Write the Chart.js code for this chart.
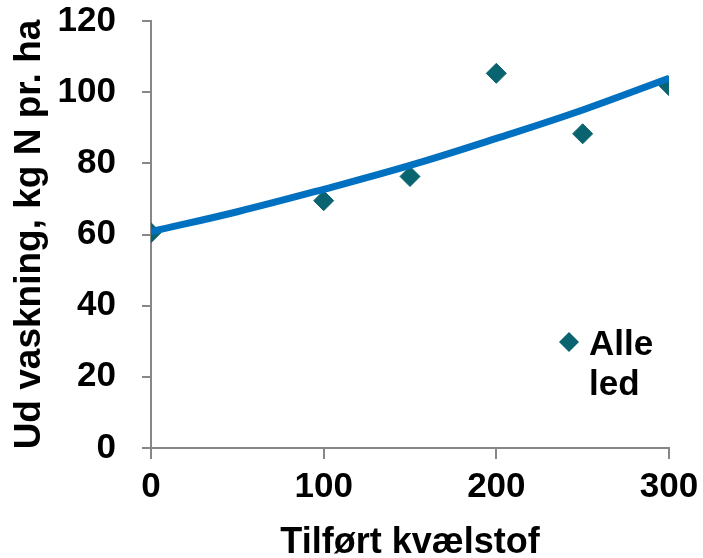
<!DOCTYPE html>
<html>
<head>
<meta charset="utf-8">
<script src="https://cdn.jsdelivr.net/npm/chart.js@4"></script>
<style>
    html, body { margin: 0; padding: 0; background: #fff; }
    canvas { display: block; }
</style>
</head>
<body>
<canvas id="udvaskChart" width="703" height="558"></canvas>
<script>
// Data
const nitrogenLevels = [0, 100, 150, 200, 250, 300];
const leachingValues = [60.5, 69.5, 76.3, 105.3, 88.3, 101.8];
const trendX = [0, 50, 100, 150, 200, 250, 300];
const trendY = [60.8, 66.4, 72.7, 79.4, 87.0, 95.0, 103.9];
const seriesLabel = 'Alle led';
const xTitle = 'Tilført kvælstof';
const yTitle = 'Ud vaskning, kg N pr. ha';

const fontFamily = "'Liberation Sans', Arial, sans-serif";
const axisGrey = '#878787';
const markerColor = '#0A6470';

// Legend in the plot area, text wrapped on two lines like the original
const insideLegend = {
    id: 'insideLegend',
    afterDraw(chart) {
        const ctx = chart.ctx;
        const ds = chart.data.datasets[1];
        const words = ds.label.split(' ');
        ctx.save();
        ctx.fillStyle = ds.backgroundColor;
        ctx.beginPath();
        ctx.moveTo(569, 332);
        ctx.lineTo(579, 342);
        ctx.lineTo(569, 352);
        ctx.lineTo(559, 342);
        ctx.closePath();
        ctx.fill();
        ctx.fillStyle = '#000';
        ctx.font = 'bold 35px ' + fontFamily;
        ctx.textBaseline = 'alphabetic';
        ctx.fillText(words[0], 589, 355);
        ctx.fillText(words[1], 589, 395);
        ctx.restore();
    }
};

new Chart(document.getElementById('udvaskChart'), {
    data: {
        datasets: [
            {
                type: 'line',
                label: 'Trend',
                data: trendX.map((x, i) => ({ x: x, y: trendY[i] })),
                borderColor: '#0070C0',
                borderWidth: 7,
                pointRadius: 0,
                tension: 0.4,
                fill: false
            },
            {
                type: 'scatter',
                label: seriesLabel,
                data: nitrogenLevels.map((x, i) => ({ x: x, y: leachingValues[i] })),
                backgroundColor: markerColor,
                borderColor: markerColor,
                pointStyle: 'rectRot',
                pointRadius: 10,
                pointHoverRadius: 10
            }
        ]
    },
    options: {
        responsive: false,
        animation: false,
        layout: { padding: { top: 21, right: 34, bottom: 0, left: 0 } },
        plugins: {
            legend: { display: false },
            tooltip: { enabled: false }
        },
        scales: {
            x: {
                type: 'linear',
                min: 0,
                max: 300,
                afterFit: function (scale) {
                    scale.height = 110;
                    scale.paddingLeft = 0;
                    scale.paddingRight = 0;
                },
                border: { color: axisGrey, width: 2 },
                grid: { drawOnChartArea: false, drawTicks: true, tickLength: 11, color: axisGrey, lineWidth: 2 },
                ticks: {
                    stepSize: 100,
                    padding: 11,
                    color: '#000',
                    font: { family: fontFamily, size: 35, weight: 'bold', lineHeight: 1 }
                },
                title: {
                    display: true,
                    text: xTitle,
                    color: '#000',
                    padding: { top: 0, bottom: -3 },
                    font: { family: fontFamily, size: 36, weight: 'bold', lineHeight: 1 }
                }
            },
            y: {
                min: 0,
                max: 120,
                afterFit: function (scale) {
                    scale.width = 151;
                    scale.paddingTop = 0;
                    scale.paddingBottom = 0;
                },
                border: { color: axisGrey, width: 2 },
                grid: { drawOnChartArea: false, drawTicks: true, tickLength: 9, color: axisGrey, lineWidth: 2 },
                ticks: {
                    stepSize: 20,
                    padding: 26,
                    color: '#000',
                    font: { family: fontFamily, size: 35, weight: 'bold', lineHeight: 1 }
                },
                title: {
                    display: true,
                    text: yTitle,
                    color: '#000',
                    padding: { top: 11, bottom: 0 },
                    font: { family: fontFamily, size: 37, weight: 'bold', lineHeight: 1 }
                }
            }
        }
    },
    plugins: [insideLegend]
});
</script>
</body>
</html>
